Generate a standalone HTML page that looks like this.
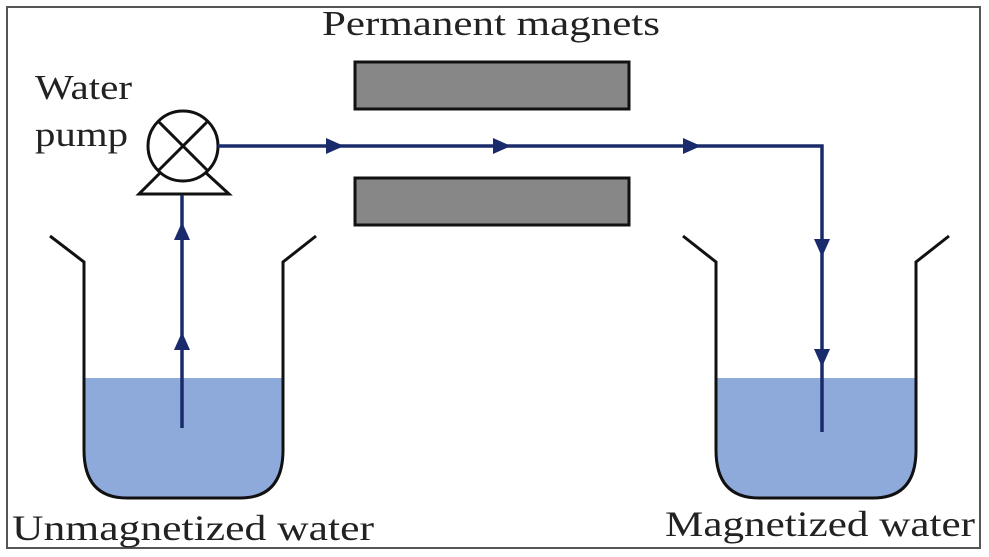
<!DOCTYPE html>
<html><head><style>html,body{margin:0;padding:0;background:#fff}svg{display:block}</style></head>
<body>
<svg width="989" height="557" viewBox="0 0 989 557" xmlns="http://www.w3.org/2000/svg">
<rect x="7" y="7" width="973" height="541" fill="#fff" stroke="#555" stroke-width="2"/>
<g font-family="Liberation Serif, serif" fill="#222">
<text x="322" y="35" font-size="35" textLength="338" lengthAdjust="spacingAndGlyphs">Permanent magnets</text>
<text x="35" y="99" font-size="35" textLength="97" lengthAdjust="spacingAndGlyphs">Water</text>
<text x="35" y="146" font-size="35" textLength="93" lengthAdjust="spacingAndGlyphs">pump</text>
<text x="12" y="540" font-size="36" textLength="362" lengthAdjust="spacingAndGlyphs">Unmagnetized water</text>
<text x="665" y="536" font-size="36" textLength="310" lengthAdjust="spacingAndGlyphs">Magnetized water</text>
</g>
<rect x="355" y="62" width="274" height="47" fill="#878787" stroke="#111" stroke-width="3"/>
<rect x="355" y="178" width="274" height="47" fill="#878787" stroke="#111" stroke-width="3"/>
<path d="M84 378 H283 V450 Q283 498 240 498 H127 Q84 498 84 450 Z" fill="#8eaadb"/>
<path d="M716 378 H916 V450 Q916 498 873 498 H759 Q716 498 716 450 Z" fill="#8eaadb"/>
<g fill="none" stroke="#111" stroke-width="3">
<path d="M50 236 L84 262 V450 Q84 498 127 498 H240 Q283 498 283 450 V262 L316 236"/>
<path d="M683 236 L716 262 V450 Q716 498 759 498 H873 Q916 498 916 450 V262 L949 236"/>
</g>
<g fill="none" stroke="#111" stroke-width="3">
<circle cx="183" cy="146" r="35"/>
<line x1="158" y1="121" x2="208" y2="171"/>
<line x1="208" y1="121" x2="158" y2="171"/>
<path d="M161 172 L139 194 H229 L205 172"/>
</g>
<g fill="none" stroke="#1a2b6b" stroke-width="3.5">
<line x1="182" y1="428" x2="182" y2="195"/>
<polyline points="218,146 822,146 822,432"/>
</g>
<g fill="#1a2b6b">
<polygon points="182,222 174,240 190,240"/>
<polygon points="182,332 174,350 190,350"/>
<polygon points="344,146 326,138 326,154"/>
<polygon points="511,146 493,138 493,154"/>
<polygon points="701,146 683,138 683,154"/>
<polygon points="822,257 814,239 830,239"/>
<polygon points="822,367 814,349 830,349"/>
</g>
</svg>
</body></html>
